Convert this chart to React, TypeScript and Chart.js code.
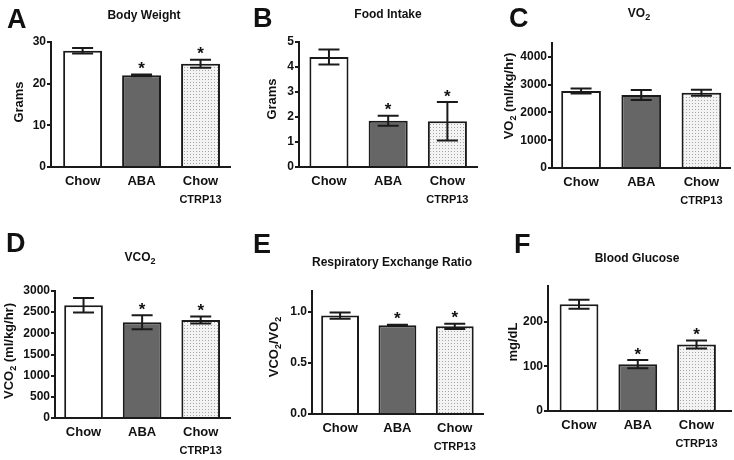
import React, { useEffect, useRef } from "react";
import { Chart, registerables } from "chart.js";

Chart.register(...registerables);

const FAMILY = '"Liberation Sans", Arial, Helvetica, sans-serif';
Chart.defaults.font.family = FAMILY;

// ---------------- data ----------------
const groupLine1 = ["Chow", "ABA", "Chow"];
const groupLine2 = ["", "", "CTRP13"];

const bodyWeightMean = [27.9, 22.0, 24.8];
const bodyWeightSem = [0.65, 0.2, 0.95];
const bodyWeightTicks = [0, 10, 20, 30];
const bodyWeightSig = [false, true, true];

const foodIntakeMean = [4.4, 1.85, 1.83];
const foodIntakeSem = [0.3, 0.2, 0.77];
const foodIntakeTicks = [0, 1, 2, 3, 4, 5];
const foodIntakeSig = [false, true, true];

const vo2Mean = [2770, 2630, 2710];
const vo2Sem = [90, 180, 110];
const vo2Ticks = [0, 1000, 2000, 3000, 4000];
const vo2Sig = [false, false, false];

const vco2Mean = [2665, 2262, 2315];
const vco2Sem = [170, 165, 85];
const vco2Ticks = [0, 500, 1000, 1500, 2000, 2500, 3000];
const vco2Sig = [false, true, true];

const rerMean = [0.96, 0.865, 0.855];
const rerSem = [0.03, 0.005, 0.025];
const rerTicks = [0, 0.5, 1.0];
const rerSig = [false, true, true];

const glucoseMean = [239, 105, 149];
const glucoseSem = [10, 9, 9];
const glucoseTicks = [0, 100, 200];
const glucoseSig = [false, true, true];

// ---------------- styling ----------------
const TEXT = "#111111";
const AXIS = "#1a1a1a";
const ABA_FILL = "#666666";

type Box = { left: number; top: number; width: number; height: number };
type AxisBox = { x: number; right: number; top: number; bottom: number };

type PanelCfg = {
  letter: string;
  title: string;
  yTitle: string;
  means: number[];
  sems: number[];
  ticks: number[];
  sig: boolean[];
  yMax: number;
  decimals: number;
  xMin: number;
  xMax: number;
  box: Box;
  axis: AxisBox;
  letterAt: [number, number];
  titleAt: [number, number];
  yTitleAt: [number, number];
};

const panels: PanelCfg[] = [
  {
    letter: "A", title: "Body Weight", yTitle: "Grams",
    means: bodyWeightMean, sems: bodyWeightSem, ticks: bodyWeightTicks, sig: bodyWeightSig,
    yMax: 30, decimals: 0, xMin: -0.536, xMax: 2.5,
    box: { left: 0, top: 0, width: 240, height: 215 },
    axis: { x: 51, right: 230, top: 42, bottom: 167 },
    letterAt: [7, 28], titleAt: [144, 16], yTitleAt: [19, 102],
  },
  {
    letter: "B", title: "Food Intake", yTitle: "Grams",
    means: foodIntakeMean, sems: foodIntakeSem, ticks: foodIntakeTicks, sig: foodIntakeSig,
    yMax: 5, decimals: 0, xMin: -0.506, xMax: 2.5,
    box: { left: 240, top: 0, width: 244, height: 215 },
    axis: { x: 299, right: 477, top: 42, bottom: 167 },
    letterAt: [253, 27], titleAt: [388, 15], yTitleAt: [272, 99],
  },
  {
    letter: "C", title: "VO{2}", yTitle: "VO{2} (ml/kg/hr)",
    means: vo2Mean, sems: vo2Sem, ticks: vo2Ticks, sig: vo2Sig,
    yMax: 4500, decimals: 0, xMin: -0.483, xMax: 2.475,
    box: { left: 484, top: 0, width: 250, height: 215 },
    axis: { x: 552, right: 730, top: 43, bottom: 168 },
    letterAt: [509, 27], titleAt: [639, 14], yTitleAt: [509, 96],
  },
  {
    letter: "D", title: "VCO{2}", yTitle: "VCO{2} (ml/kg/hr)",
    means: vco2Mean, sems: vco2Sem, ticks: vco2Ticks, sig: vco2Sig,
    yMax: 3000, decimals: 0, xMin: -0.487, xMax: 2.5,
    box: { left: 0, top: 228, width: 240, height: 232 },
    axis: { x: 55, right: 230, top: 291, bottom: 418 },
    letterAt: [6, 252], titleAt: [140, 258], yTitleAt: [9, 351],
  },
  {
    letter: "E", title: "Respiratory Exchange Ratio", yTitle: "VCO{2}/VO{2}",
    means: rerMean, sems: rerSem, ticks: rerTicks, sig: rerSig,
    yMax: 1.2, decimals: 1, xMin: -0.49, xMax: 2.51,
    box: { left: 240, top: 228, width: 244, height: 232 },
    axis: { x: 312, right: 496, top: 291, bottom: 414 },
    letterAt: [253, 253], titleAt: [392, 263], yTitleAt: [274, 347],
  },
  {
    letter: "F", title: "Blood Glucose", yTitle: "mg/dL",
    means: glucoseMean, sems: glucoseSem, ticks: glucoseTicks, sig: glucoseSig,
    yMax: 280, decimals: 0, xMin: -0.528, xMax: 2.587,
    box: { left: 484, top: 228, width: 250, height: 232 },
    axis: { x: 548, right: 731, top: 286, bottom: 411 },
    letterAt: [514, 253], titleAt: [637, 259], yTitleAt: [513, 342],
  },
];

// ---------------- helpers ----------------
function parseRich(text: string) {
  const parts: { t: string; sub: boolean }[] = [];
  const re = /\{([^}]*)\}/g;
  let last = 0;
  let m: RegExpExecArray | null;
  while ((m = re.exec(text))) {
    if (m.index > last) parts.push({ t: text.slice(last, m.index), sub: false });
    parts.push({ t: m[1], sub: true });
    last = m.index + m[0].length;
  }
  if (last < text.length) parts.push({ t: text.slice(last), sub: false });
  return parts;
}

function drawRich(ctx: CanvasRenderingContext2D, text: string, x: number, y: number, size: number, rotate: boolean) {
  const parts = parseRich(text);
  const subSize = Math.round(size * 0.72);
  let total = 0;
  const widths = parts.map((p) => {
    ctx.font = `bold ${p.sub ? subSize : size}px ${FAMILY}`;
    const w = ctx.measureText(p.t).width;
    total += w;
    return w;
  });
  ctx.save();
  ctx.translate(x, y);
  if (rotate) ctx.rotate(-Math.PI / 2);
  ctx.textAlign = "left";
  ctx.textBaseline = "middle";
  ctx.fillStyle = TEXT;
  let cx = -total / 2;
  parts.forEach((p, i) => {
    ctx.font = `bold ${p.sub ? subSize : size}px ${FAMILY}`;
    ctx.fillText(p.t, cx, p.sub ? size * 0.32 : 0);
    cx += widths[i];
  });
  ctx.restore();
}

function makeDots(ctx: CanvasRenderingContext2D) {
  const c = document.createElement("canvas");
  c.width = 3;
  c.height = 3;
  const g = c.getContext("2d")!;
  g.fillStyle = "#f3f3f3";
  g.fillRect(0, 0, 3, 3);
  g.fillStyle = "#a6a6a6";
  g.fillRect(1, 1, 1, 1);
  return ctx.createPattern(c, "repeat");
}

const decorPlugin = {
  id: "panelDecor",
  afterDatasetsDraw(chart: any, _args: any, opts: any) {
    const p: PanelCfg = opts.panel;
    if (!p) return;
    const ctx: CanvasRenderingContext2D = chart.ctx;
    const xs = chart.scales.x;
    const ys = chart.scales.y;
    ctx.save();
    ctx.strokeStyle = AXIS;
    ctx.lineWidth = 2;
    p.means.forEach((m, i) => {
      const x = xs.getPixelForValue(i);
      const hi = ys.getPixelForValue(m + p.sems[i]);
      const lo = ys.getPixelForValue(m - p.sems[i]);
      const cap = 10.5;
      ctx.beginPath();
      ctx.moveTo(x, lo);
      ctx.lineTo(x, hi);
      ctx.moveTo(x - cap, hi);
      ctx.lineTo(x + cap, hi);
      ctx.moveTo(x - cap, lo);
      ctx.lineTo(x + cap, lo);
      ctx.stroke();
      if (p.sig[i]) {
        ctx.fillStyle = TEXT;
        ctx.font = `bold 17px ${FAMILY}`;
        ctx.textAlign = "center";
        ctx.textBaseline = "alphabetic";
        ctx.fillText("*", x, hi - 0.5);
      }
    });
    ctx.restore();
  },
  afterDraw(chart: any, _args: any, opts: any) {
    const p: PanelCfg = opts.panel;
    if (!p) return;
    const ctx: CanvasRenderingContext2D = chart.ctx;
    const ox = p.box.left;
    const oy = p.box.top;
    const xs = chart.scales.x;
    ctx.save();
    ctx.fillStyle = TEXT;
    ctx.textAlign = "center";
    ctx.textBaseline = "middle";
    const base = chart.chartArea.bottom;
    groupLine1.forEach((lab, i) => {
      const x = xs.getPixelForValue(i);
      ctx.font = `bold 13px ${FAMILY}`;
      ctx.fillText(lab, x, base + 14);
      if (groupLine2[i]) {
        ctx.font = `bold 11px ${FAMILY}`;
        ctx.fillText(groupLine2[i], x, base + 33);
      }
    });
    ctx.font = `bold 27px ${FAMILY}`;
    ctx.textAlign = "left";
    ctx.textBaseline = "alphabetic";
    ctx.fillText(p.letter, p.letterAt[0] - ox, p.letterAt[1] - oy);
    ctx.restore();
    drawRich(ctx, p.title, p.titleAt[0] - ox, p.titleAt[1] - oy, 12, false);
    drawRich(ctx, p.yTitle, p.yTitleAt[0] - ox, p.yTitleAt[1] - oy, 13, true);
  },
};

function BarPanel({ p }: { p: PanelCfg }) {
  const ref = useRef<HTMLCanvasElement | null>(null);
  useEffect(() => {
    const canvas = ref.current!;
    const ctx = canvas.getContext("2d")!;
    const dots = makeDots(ctx);
    const { box, axis } = p;
    const chart = new Chart(ctx, {
      type: "bar",
      data: {
        datasets: [
          {
            data: p.means.map((m, i) => ({ x: i, y: m })),
            backgroundColor: ["#ffffff", ABA_FILL, dots as any],
            borderColor: AXIS,
            borderWidth: 2,
            barPercentage: 0.66,
            categoryPercentage: 1,
          } as any,
        ],
      },
      options: {
        animation: false,
        responsive: false,
        events: [],
        layout: {
          padding: {
            left: 0,
            bottom: 0,
            top: axis.top - box.top,
            right: box.left + box.width - axis.right,
          },
        },
        plugins: {
          legend: { display: false },
          tooltip: { enabled: false },
          panelDecor: { panel: p },
        } as any,
        scales: {
          x: {
            type: "linear",
            offset: false,
            min: p.xMin,
            max: p.xMax,
            afterBuildTicks: (s: any) => {
              s.ticks = p.means.map((_, i) => ({ value: i }));
            },
            ticks: { display: false },
            grid: { display: false, offset: false },
            border: { display: true, color: AXIS, width: 2 },
            afterFit: (s: any) => {
              s.height = box.top + box.height - axis.bottom;
            },
          },
          y: {
            type: "linear",
            min: 0,
            max: p.yMax,
            afterBuildTicks: (s: any) => {
              s.ticks = p.ticks.map((v) => ({ value: v }));
            },
            ticks: {
              color: TEXT,
              font: { size: 12, weight: "bold" },
              padding: 1,
              callback: (v: any) => Number(v).toFixed(p.decimals),
            },
            grid: {
              drawOnChartArea: false,
              drawTicks: true,
              tickLength: 4,
              color: AXIS,
              lineWidth: 2,
            },
            border: { display: true, color: AXIS, width: 2 },
            afterFit: (s: any) => {
              s.width = axis.x - box.left;
            },
          },
        },
      } as any,
      plugins: [decorPlugin as any],
    });
    return () => chart.destroy();
  }, [p]);
  return (
    <canvas
      ref={ref}
      width={p.box.width}
      height={p.box.height}
      style={{
        position: "absolute",
        left: p.box.left,
        top: p.box.top,
        width: p.box.width,
        height: p.box.height,
      }}
    />
  );
}

export default function App() {
  return (
    <div
      style={{
        position: "absolute",
        left: 0,
        top: 0,
        width: 734,
        height: 460,
        background: "#ffffff",
        overflow: "hidden",
      }}
    >
      {panels.map((p) => (
        <BarPanel key={p.letter} p={p} />
      ))}
    </div>
  );
}
